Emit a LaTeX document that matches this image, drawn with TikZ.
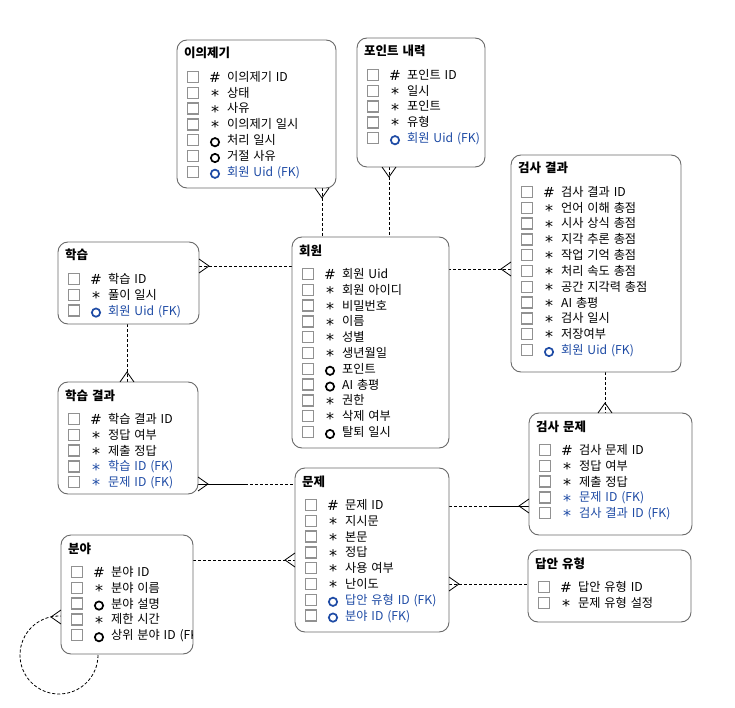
\documentclass[tikz,border=0pt]{standalone}
\usepackage{fontspec}
\setmainfont{Noto Sans CJK KR}[WordSpace=1.4]
\newfontfamily\symfont{DejaVu Sans}
\usetikzlibrary{backgrounds}
\definecolor{fkblue}{RGB}{30,75,165}
\definecolor{boxgray}{RGB}{105,105,105}
\definecolor{chkgray}{RGB}{145,145,145}
\newcommand\erent[7]{%
  \node[ebox, minimum width={(#4-#2)*1pt}, minimum height={(#5-#3)*1pt}] (#1) at ({(#2+#4)/2},{(#3+#5)/2}) {};
  \node[etitle, anchor=base west] (#1-title) at (#2+7,#3+18) {#6};
  \begin{scope}
    \clip (#2,#3) rectangle (#4-1,#5);
    \foreach \sy/\co/\tx [count=\i from 0] in {#7}{
      \pgfmathsetmacro\yy{#3+37+\i*15.8}
      \node[chk] (#1-c\i) at (#2+16,\yy) {};
      \node (#1-s\i) at (#2+38,\yy) [\sy, color=\co];
      \node[etext, text=\co, anchor=base west] (#1-r\i) at (#2+50,\yy+4.4) {\tx};
    }
  \end{scope}
}
\begin{document}
\begin{tikzpicture}[x=1pt,y=-1pt,
  ebox/.style={draw=boxgray, line width=0.9pt, fill=white, rounded corners=10pt, inner sep=0pt, outer sep=0pt},
  etitle/.style={font=\fontsize{12.5}{14}\selectfont\bfseries, inner sep=0pt},
  etext/.style={font=\fontsize{12.2}{14}\selectfont, inner sep=0pt},
  chk/.style={draw=chkgray, line width=1.4pt, fill=white, minimum size=11pt, inner sep=0pt},
  symp/.style={font=\symfont\fontsize{14}{14}\selectfont, inner sep=0pt, anchor=base, yshift=-5.1pt, node contents={\#}},
  syms/.style={font=\symfont\fontsize{16}{16}\selectfont, inner sep=0pt, anchor=base, yshift=-8.6pt, node contents={*}},
  symo/.style={circle, draw, line width=1.7pt, minimum size=8.3pt, inner sep=0pt, yshift=-2pt, node contents={}},
  rel/.style={draw=black, line width=0.8pt, dash pattern=on 3pt off 2pt},
  solidrel/.style={draw=black, line width=0.8pt},
  crowline/.style={draw=black, line width=0.8pt},
  crowD/.pic={\draw[crowline] (-7,0) -- (0,10) -- (7,0);},
  crowU/.pic={\draw[crowline] (-7,0) -- (0,-10) -- (7,0);},
  crowR/.pic={\draw[crowline] (0,-7) -- (10,0) -- (0,7);},
  crowL/.pic={\draw[crowline] (0,-7) -- (-10,0) -- (0,7);}
]
\useasboundingbox (0,0) rectangle (735,708);

\erent{ieui}{177}{40}{336}{188}{이의제기}{symp/black/이의제기 ID, syms/black/상태, syms/black/사유, syms/black/이의제기 일시, symo/black/처리 일시, symo/black/거절 사유, symo/fkblue/회원 Uid (FK)}
\erent{point}{357}{38}{485}{167}{포인트 내력}{symp/black/포인트 ID, syms/black/일시, syms/black/포인트, syms/black/유형, symo/fkblue/회원 Uid (FK)}
\erent{gresult}{511}{155}{681}{372}{검사 결과}{symp/black/검사 결과 ID, syms/black/언어 이해 총점, syms/black/시사 상식 총점, syms/black/지각 추론 총점, syms/black/작업 기억 총점, syms/black/처리 속도 총점, syms/black/공간 지각력 총점, syms/black/AI 총평, syms/black/검사 일시, syms/black/저장여부, symo/fkblue/회원 Uid (FK)}
\erent{study}{58}{242}{199}{324}{학습}{symp/black/학습 ID, syms/black/풀이 일시, symo/fkblue/회원 Uid (FK)}
\erent{member}{292}{237}{449}{448}{회원}{symp/black/회원 Uid, syms/black/회원 아이디, syms/black/비밀번호, syms/black/이름, syms/black/성별, syms/black/생년월일, symo/black/포인트, symo/black/AI 총평, syms/black/권한, syms/black/삭제 여부, symo/black/탈퇴 일시}
\erent{sresult}{58}{382}{198}{494}{학습 결과}{symp/black/학습 결과 ID, syms/black/정답 여부, syms/black/제출 정답, syms/fkblue/학습 ID (FK), syms/fkblue/문제 ID (FK)}
\erent{gprob}{529}{413}{692}{535}{검사 문제}{symp/black/검사 문제 ID, syms/black/정답 여부, syms/black/제출 정답, syms/fkblue/문제 ID (FK), syms/fkblue/검사 결과 ID (FK)}
\erent{prob}{295}{468}{449}{632}{문제}{symp/black/문제 ID, syms/black/지시문, syms/black/본문, syms/black/정답, syms/black/사용 여부, syms/black/난이도, symo/fkblue/답안 유형 ID (FK), symo/fkblue/분야 ID (FK)}
\erent{field}{61}{535}{193}{654}{분야}{symp/black/분야 ID, syms/black/분야 이름, symo/black/분야 설명, syms/black/제한 시간, symo/black/상위 분야 ID (FK)}
\erent{atype}{528}{550}{691}{622}{답안 유형}{symp/black/답안 유형 ID, syms/black/문제 유형 설정}

\coordinate (xA) at (322,0);
\coordinate (xB) at (389,0);
\coordinate (yC) at (0,266);
\coordinate (yD) at (0,269);
\coordinate (xE) at (127,0);
\coordinate (yF) at (0,484);
\coordinate (xF) at (245,0);
\coordinate (xG) at (605,0);
\coordinate (yH) at (0,506);
\coordinate (xH) at (490,0);
\coordinate (yI) at (0,560);
\coordinate (yJ) at (0,584);
\coordinate (yK) at (0,617);

\begin{scope}[on background layer]
\fill[white] (0,0) rectangle (735,708);
\draw[rel] (ieui.south -| xA) -- (member.north -| xA);
\draw[rel] (point.south -| xB) -- (member.north -| xB);
\draw[rel] (study.east |- yC) -- (member.west |- yC);
\draw[rel] (gresult.west |- yD) -- (member.east |- yD);
\draw[rel] (study.south -| xE) -- (sresult.north -| xE);
\draw[solidrel] (sresult.east |- yF) -- (xF |- yF);
\draw[rel] (xF |- yF) -- (prob.west |- yF);
\draw[rel] (gresult.south -| xG) -- (gprob.north -| xG);
\draw[rel] (prob.east |- yH) -- (xH |- yH);
\draw[solidrel] (xH |- yH) -- (gprob.west |- yH);
\draw[rel] (field.east |- yI) -- (prob.west |- yI);
\draw[rel] (prob.east |- yJ) -- (atype.west |- yJ);
\draw[rel] ([xshift=-2pt,yshift=-1pt]field.south west) circle[radius=39];
\end{scope}

\pic at (ieui.south -| xA) {crowD};
\pic at (point.south -| xB) {crowD};
\pic at (study.east |- yC) {crowR};
\pic at (gresult.west |- yD) {crowL};
\pic at (sresult.north -| xE) {crowU};
\pic at (sresult.east |- yF) {crowR};
\pic at (gprob.north -| xG) {crowU};
\pic at (gprob.west |- yH) {crowL};
\pic at (prob.west |- yI) {crowL};
\pic at (prob.east |- yJ) {crowR};
\pic at (field.west |- yK) {crowL};
\end{tikzpicture}
\end{document}
